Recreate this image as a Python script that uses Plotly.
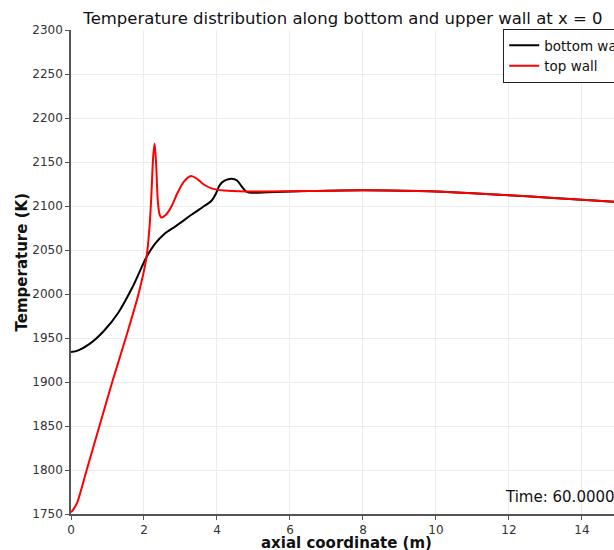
import plotly.graph_objects as go

# bottom wall (black)
bottom_x = [0.0, 0.2, 0.5, 0.9, 1.3, 1.7, 2.07, 2.3, 2.55, 2.9, 3.3, 3.65, 3.85, 3.97, 4.08, 4.22, 4.4, 4.55, 4.68, 4.82, 5.0, 5.4, 6.5, 8.0, 9.5, 11.0, 12.5, 14.0, 15.0]
bottom_T = [1934, 1936, 1943, 1958, 1979, 2009, 2042, 2057, 2068, 2078, 2090, 2100, 2106, 2114, 2124, 2129, 2131, 2129, 2122, 2116, 2115, 2115.5, 2117, 2118, 2117, 2114.5, 2111, 2107, 2104.5]

# top wall (red)
top_x = [0.0, 0.06, 0.16, 0.43, 0.78, 1.13, 1.5, 1.85, 2.07, 2.15, 2.2, 2.25, 2.29, 2.33, 2.38, 2.43, 2.48, 2.6, 2.76, 2.92, 3.1, 3.29, 3.45, 3.62, 3.85, 4.2, 4.8, 6.5, 8.0, 9.5, 11.0, 12.5, 14.0, 15.0]
top_T = [1752, 1755, 1762, 1800, 1850, 1900, 1950, 2000, 2042, 2075, 2110, 2155, 2171, 2150, 2105, 2090, 2087, 2090, 2100, 2115, 2128, 2134, 2131, 2125, 2120, 2117.5, 2116.5, 2117, 2118, 2117, 2114.5, 2111, 2107, 2104.5]

x_ticks = [0, 2, 4, 6, 8, 10, 12, 14]
y_ticks = [1750, 1800, 1850, 1900, 1950, 2000, 2050, 2100, 2150, 2200, 2250, 2300]

FONT = "'DejaVu Sans', sans-serif"

fig = go.Figure()
fig.add_trace(go.Scatter(x=bottom_x, y=bottom_T, mode="lines", name="bottom wall",
                         line=dict(color="black", width=2, shape="spline", smoothing=1.0)))
fig.add_trace(go.Scatter(x=top_x, y=top_T, mode="lines", name="top wall",
                         line=dict(color="red", width=2, shape="spline", smoothing=0.8)))

fig.update_layout(
    width=614, height=550,
    margin=dict(l=71, r=0, t=30, b=36, autoexpand=False),
    paper_bgcolor="white", plot_bgcolor="white",
    font=dict(family=FONT, color="#222"),
    title=dict(text="Temperature distribution along bottom and upper wall at x = 0",
               x=0.5586, xanchor="center", y=0.967, yanchor="middle",
               font=dict(size=16.5, color="#111", family=FONT)),
    legend=dict(x=0.796, xanchor="left", y=1.002, yanchor="top",
                bordercolor="#222", borderwidth=1, bgcolor="white",
                font=dict(size=13.5, color="#111", family=FONT),
                itemwidth=30, tracegroupgap=0),
    showlegend=True,
    annotations=[
        dict(text="Time: 60.0000", xref="paper", yref="paper",
             x=0.796, y=0.035, xanchor="left", yanchor="middle",
             showarrow=False, font=dict(size=15, color="#111", family=FONT)),
        dict(text="<b>axial coordinate (m)</b>", xref="paper", yref="paper",
             x=0.508, y=-0.06, xanchor="center", yanchor="middle",
             showarrow=False, font=dict(size=15, color="#111", family=FONT)),
        dict(text="<b>Temperature (K)</b>", xref="paper", yref="paper",
             x=-0.090, y=0.52, xanchor="center", yanchor="middle", textangle=-90,
             showarrow=False, font=dict(size=15, color="#111", family=FONT)),
    ],
)
fig.update_xaxes(range=[0, 14.88], tickvals=x_ticks, showgrid=True, gridcolor="#ececec",
                 showline=True, linecolor="#555", linewidth=1.5, ticks="outside",
                 ticklen=4, tickcolor="#555", zeroline=False, automargin=False,
                 tickfont=dict(size=12, color="#333", family=FONT))
fig.update_yaxes(range=[1750, 2300], tickvals=y_ticks, showgrid=True, gridcolor="#ececec",
                 showline=True, linecolor="#555", linewidth=1.5, ticks="outside",
                 ticklen=4, tickcolor="#555", zeroline=False, automargin=False,
                 tickfont=dict(size=12, color="#333", family=FONT))

fig.write_html("out.html", config={"displayModeBar": False},
               post_script="document.body.style.margin='0';document.body.style.overflow='hidden';")
